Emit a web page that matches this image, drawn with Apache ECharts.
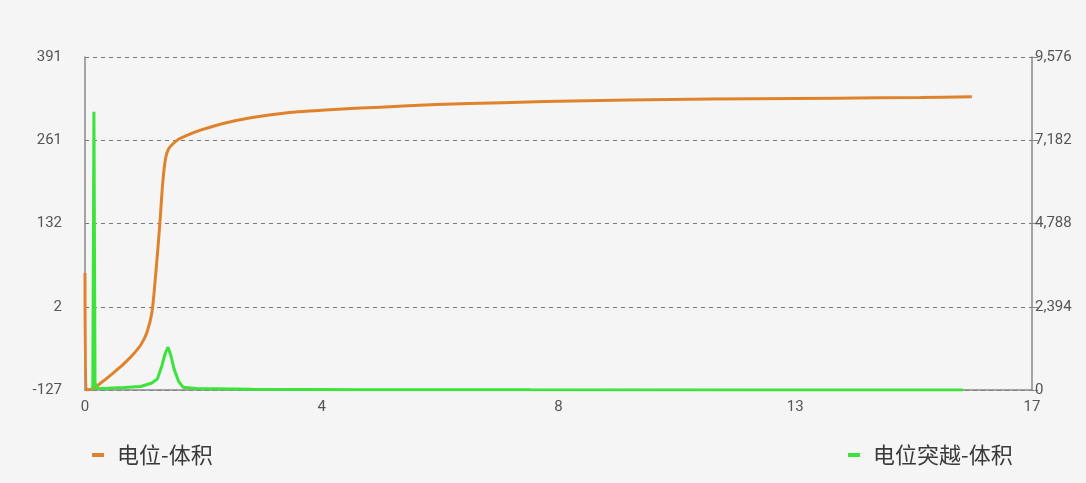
<!DOCTYPE html>
<html><head><meta charset="utf-8">
<script src="https://cdn.jsdelivr.net/npm/echarts@6/dist/echarts.min.js"></script>
<style>html,body{margin:0;padding:0;background:#f5f5f5;}#c{width:1086px;height:483px;}</style>
</head><body><div id="c"></div>
<script>
const seriesNames = ['电位-体积', '电位突越-体积'];
const potX = [0, 0.02, 0.15, 0.3, 0.5, 0.7, 0.85, 1.0, 1.11, 1.2, 1.26, 1.31, 1.35, 1.4, 1.45, 1.5, 1.58, 1.68, 1.85, 2.1, 2.5, 3.0, 3.6, 4.4, 5.3, 6.3, 7.5, 9, 10.5, 12, 13.5, 15, 15.92];
const potY = [55, -127, -125, -115, -101, -86, -73, -57, -38, -7, 44, 95, 140, 200, 235, 248, 256, 263, 270, 278, 288, 297, 304, 309, 313, 317, 320, 323, 325, 326, 327, 328, 329];
const jumpX = [0.14, 0.16, 0.18, 0.22, 0.4, 0.7, 1.0, 1.2, 1.3, 1.38, 1.44, 1.49, 1.54, 1.6, 1.68, 1.76, 2.0, 3, 5, 8, 12, 15.76];
const jumpY = [0, 8000, 200, 40, 50, 70, 100, 200, 320, 700, 1050, 1230, 1000, 600, 250, 80, 40, 20, 10, 5, 3, 0];
const leftTicks = ['-127', '2', '132', '261', '391'];
const rightTicks = ['0', '2,394', '4,788', '7,182', '9,576'];
const xTicks = ['0', '4', '8', '13', '17'];

const leftMin = -127, leftMax = 391, leftInt = (391 + 127) / 4;
const rightMin = 0, rightMax = 9576, rightInt = 2394;
const xMin = 0, xMax = 17, xInt = 4.25;

const chart = echarts.init(document.getElementById('c'));
const labelStyle = {color: '#555', fontSize: 15, fontFamily: 'Roboto, sans-serif'};
const legendText = {fontSize: 22, color: '#3a3a3a', fontFamily: '"Noto Sans CJK SC", sans-serif', padding: [0, 0, 0, 8]};
chart.setOption({
  backgroundColor: '#f5f5f5',
  animation: false,
  grid: {left: 85, right: 54, top: 57, bottom: 93},
  legend: [
    {data: [seriesNames[0]], left: 87, top: 439, icon: 'rect', itemWidth: 12, itemHeight: 4, textStyle: legendText},
    {data: [seriesNames[1]], left: 843, top: 439, icon: 'rect', itemWidth: 12, itemHeight: 4, textStyle: legendText}
  ],
  xAxis: {
    type: 'value', min: xMin, max: xMax, interval: xInt,
    axisLine: {show: true, onZero: false, lineStyle: {color: '#888', width: 1.5}},
    axisTick: {show: false},
    splitLine: {show: false},
    axisLabel: Object.assign({margin: 10, formatter: v => xTicks[Math.round((v - xMin) / xInt)] ?? ''}, labelStyle)
  },
  yAxis: [
    {
      type: 'value', min: leftMin, max: leftMax, interval: leftInt, position: 'left',
      axisLine: {show: true, onZero: false, lineStyle: {color: '#888', width: 1.5}},
      axisTick: {show: false},
      splitLine: {show: true, lineStyle: {color: '#777', type: [4, 4], width: 1}},
      axisLabel: Object.assign({margin: 23, formatter: v => leftTicks[Math.round((v - leftMin) / leftInt)] ?? ''}, labelStyle)
    },
    {
      type: 'value', min: rightMin, max: rightMax, interval: rightInt, position: 'right',
      axisLine: {show: true, onZero: false, lineStyle: {color: '#888', width: 1.5}},
      axisTick: {show: true, length: 6, lineStyle: {color: '#888'}},
      splitLine: {show: false},
      axisLabel: Object.assign({margin: 3, formatter: v => rightTicks[Math.round((v - rightMin) / rightInt)] ?? ''}, labelStyle)
    }
  ],
  series: [
    {name: seriesNames[0], type: 'line', yAxisIndex: 0, showSymbol: false, symbol: 'none',
     data: potX.map((x, i) => [x, potY[i]]), smooth: 0.3,
     lineStyle: {color: '#E0822C', width: 3}, itemStyle: {color: '#E0822C'}},
    {name: seriesNames[1], type: 'line', yAxisIndex: 1, showSymbol: false, symbol: 'none',
     data: jumpX.map((x, i) => [x, jumpY[i]]),
     lineStyle: {color: '#3BE33B', width: 3}, itemStyle: {color: '#3BE33B'}}
  ]
});
</script></body></html>
